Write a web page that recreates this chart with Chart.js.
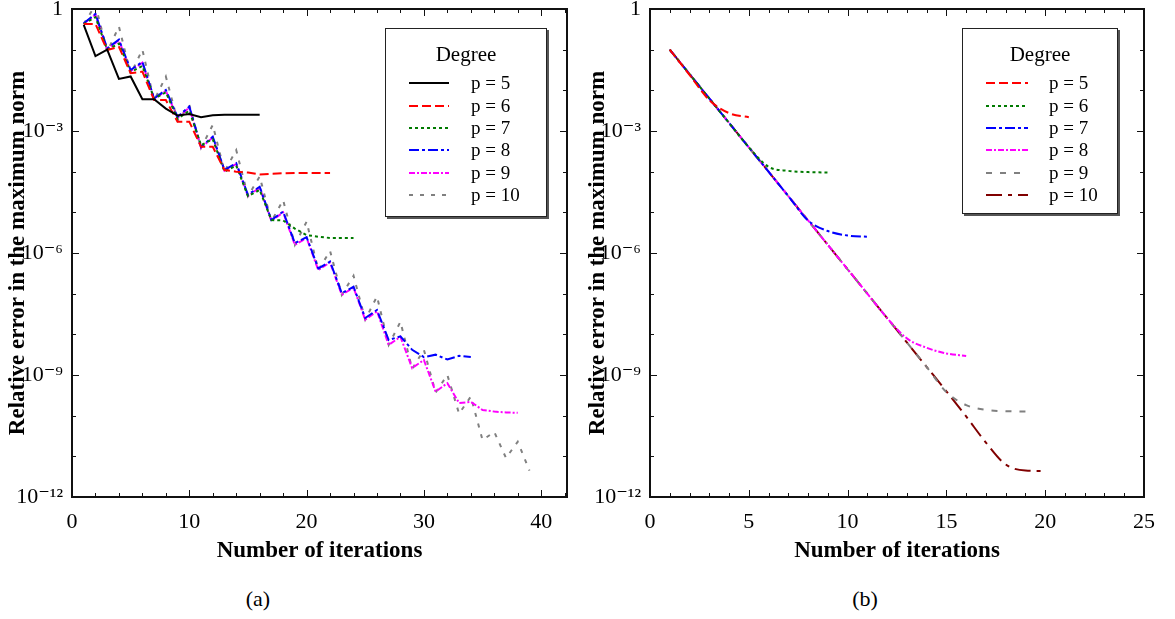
<!DOCTYPE html>
<html>
<head>
<meta charset="utf-8">
<script src="https://cdn.jsdelivr.net/npm/chart.js@4.4.0/dist/chart.umd.min.js"></script>
<style>
  body { margin: 0; background: #fff; width: 1175px; height: 619px; position: relative; overflow: hidden;
         font-family: "Liberation Serif", "DejaVu Serif", serif; color: #000; }
  canvas { position: absolute; top: 0; }
  #chartA { left: 0; }
  #chartB { left: 580px; }
  .legend { position: absolute; box-sizing: border-box; background: #fff; border: 1px solid #222;
            box-shadow: 2px 2px 0 #555; }
  .legend .title { text-align: center; font-size: 21px; height: 24px; line-height: 24px; margin-top: 13px; margin-bottom: 6px; }
  .legend .row { display: flex; align-items: center; height: 22.4px; font-size: 19px; }
  .legend svg { margin-left: 23px; }
  .caption { position: absolute; top: 586px; width: 80px; text-align: center; font-size: 22px; }
</style>
</head>
<body>
<canvas id="chartA" width="580" height="565"></canvas>
<canvas id="chartB" width="595" height="565"></canvas>
<div class="legend" id="legendA" style="left:385px; top:28px; width:162px; height:189px;"></div>
<div class="legend" id="legendB" style="left:962px; top:28px; width:156px; height:186px;"></div>
<div class="caption" style="left:218px;">(a)</div>
<div class="caption" style="left:825px;">(b)</div>
<script>
// axis ticks
const yTickValues = [1e-12, 1e-9, 1e-6, 1e-3, 1];
const yTickLabels = ['10\u207B\u00B9\u00B2', '10\u207B\u2079', '10\u207B\u2076', '10\u207B\u00B3', '1'];
const xTicksA = [0, 10, 20, 30, 40];
const xTicksB = [0, 5, 10, 15, 20, 25];
const degreeLabels = ['p = 5', 'p = 6', 'p = 7', 'p = 8', 'p = 9', 'p = 10'];
const iterations = [1, 2, 3, 4, 5, 6, 7, 8, 9, 10, 11, 12, 13, 14, 15, 16, 17, 18, 19, 20,
  21, 22, 23, 24, 25, 26, 27, 28, 29, 30, 31, 32, 33, 34, 35, 36, 37, 38, 39];

// (a) errors, stored as log10 of the relative error
const errA_p5 = [-0.39, -1.16, -1.0, -1.72, -1.66, -2.22, -2.22, -2.45, -2.62, -2.58, -2.66, -2.61, -2.6, -2.6, -2.6, -2.6];
const errA_p6 = [-0.37, -0.37, -1.01, -0.93, -1.58, -1.54, -2.24, -2.24, -2.77, -2.77, -3.39, -3.39, -3.96, -4.0,
  -4.02, -4.07, -4.05, -4.04, -4.03, -4.03, -4.03, -4.03];
const errA_p7 = [-0.37, -0.2, -1.0, -0.85, -1.55, -1.4, -2.2, -2.05, -2.7, -2.5, -3.35, -3.2, -4.0, -3.85, -4.6, -4.45,
  -5.19, -5.2, -5.4, -5.56, -5.6, -5.63, -5.63, -5.63];
const errA_p8 = [-0.35, -0.12, -0.97, -0.75, -1.5, -1.3, -2.2, -1.99, -2.65, -2.4, -3.39, -3.14, -3.96, -3.79, -4.57, -4.37,
  -5.19, -4.98, -5.76, -5.61, -6.38, -6.21, -6.99, -6.83, -7.6, -7.4, -8.14, -8.05, -8.38, -8.56, -8.5, -8.62, -8.53, -8.56];
const errA_p9 = [-0.36, -0.14, -0.99, -0.77, -1.53, -1.32, -2.22, -2.01, -2.68, -2.42, -3.41, -3.16, -3.98, -3.81, -4.6, -4.39,
  -5.21, -5.0, -5.8, -5.63, -6.42, -6.23, -7.03, -6.85, -7.64, -7.43, -8.26, -8.06, -8.83, -8.63, -9.41, -9.2, -9.69, -9.66,
  -9.86, -9.9, -9.92, -9.93];
const errA_p10 = [-0.37, 0.1, -1.05, -0.43, -1.6, -1.0, -2.25, -1.66, -2.75, -2.36, -3.42, -2.85, -4.0, -3.47, -4.6, -4.12,
  -5.22, -4.7, -5.8, -5.23, -6.42, -5.95, -7.03, -6.56, -7.64, -7.07, -8.26, -7.69, -8.85, -8.38, -9.43, -9.0, -9.95, -9.53,
  -10.6, -10.4, -11.04, -10.64, -11.35];

// (b) errors, log10
const errB_p5 = [-1.0, -1.62, -2.24, -2.56, -2.66];
const errB_p6 = [-1.0, -1.6, -2.2, -2.8, -3.4, -3.88, -3.98, -4.01, -4.02];
const errB_p7 = [-1.0, -1.6, -2.2, -2.8, -3.4, -4.0, -4.6, -5.2, -5.46, -5.57, -5.6];
const errB_p8 = [-1.0, -1.6, -2.2, -2.8, -3.4, -4.0, -4.6, -5.2, -5.8, -6.4, -7.0, -7.6, -8.1, -8.33, -8.47, -8.53];
const errB_p9 = [-1.0, -1.6, -2.2, -2.8, -3.4, -4.0, -4.6, -5.2, -5.8, -6.4, -7.0, -7.6, -8.2, -8.8, -9.42,
  -9.74, -9.86, -9.89, -9.9];
const errB_p10 = [-1.0, -1.6, -2.2, -2.8, -3.4, -4.0, -4.6, -5.2, -5.8, -6.4, -7.0, -7.6, -8.2, -8.8, -9.4,
  -10.02, -10.66, -11.2, -11.35, -11.36];

const toPoints = exps => exps.map((e, i) => ({ x: iterations[i], y: Math.pow(10, e) }));

const serif = '"Liberation Serif", "DejaVu Serif", serif';
const tickFont = { family: serif, size: 22 };
const titleFont = { family: serif, size: 23, weight: 'bold' };

// box around the plot with inward ticks on all four sides
const framePlugin = {
  id: 'frame',
  afterDatasetsDraw(chart, args, opts) {
    const { ctx, chartArea: a, scales: { x, y } } = chart;
    ctx.save();
    ctx.strokeStyle = '#111';
    ctx.lineWidth = 1;
    ctx.beginPath();
    for (let v = 0; v <= x.max; v += opts.xMinor) {
      const px = Math.round(x.getPixelForValue(v)) + 0.5;
      const len = v % opts.xMajor === 0 ? 7 : 4;
      ctx.moveTo(px, a.bottom); ctx.lineTo(px, a.bottom - len);
      ctx.moveTo(px, a.top); ctx.lineTo(px, a.top + len);
    }
    for (let e = -12; e <= 0; e++) {
      const py = Math.round(y.getPixelForValue(Math.pow(10, e))) + 0.5;
      const len = e % 3 === 0 ? 7 : 4;
      ctx.moveTo(a.left, py); ctx.lineTo(a.left + len, py);
      ctx.moveTo(a.right, py); ctx.lineTo(a.right - len, py);
    }
    ctx.stroke();
    ctx.lineWidth = 2;
    ctx.strokeRect(a.left, a.top, a.right - a.left, a.bottom - a.top);
    ctx.restore();
  }
};

function makeOptions(xMax, xTicks, yWidth, rightPad, xMinor, xMajor, smooth) {
  return {
    responsive: false,
    animation: false,
    layout: { padding: { top: 9, right: rightPad, bottom: 0, left: 0 } },
    elements: {
      point: { radius: 0 },
      line: { borderWidth: 2, tension: 0, cubicInterpolationMode: smooth ? 'monotone' : 'default' }
    },
    plugins: {
      legend: { display: false },
      tooltip: { enabled: false },
      frame: { xMinor: xMinor, xMajor: xMajor }
    },
    scales: {
      x: {
        type: 'linear', min: 0, max: xMax,
        grid: { display: false, drawTicks: false },
        border: { display: false },
        afterBuildTicks: s => { s.ticks = xTicks.map(v => ({ value: v })); },
        afterFit: s => { s.height = 68; s.paddingLeft = 0; s.paddingRight = 0; },
        ticks: { color: '#000', font: tickFont, padding: 12, maxRotation: 0, autoSkip: false },
        title: { display: true, text: 'Number of iterations', color: '#000', font: titleFont, padding: { top: 1, bottom: 0 } }
      },
      y: {
        type: 'logarithmic', min: 1e-12, max: 1,
        grid: { display: false, drawTicks: false },
        border: { display: false },
        afterBuildTicks: s => { s.ticks = yTickValues.map(v => ({ value: v })); },
        afterFit: s => { s.width = yWidth; s.paddingTop = 0; s.paddingBottom = 0; },
        ticks: { color: '#000', font: tickFont, padding: 9, autoSkip: false, callback: (v, i) => yTickLabels[i] },
        title: { display: true, text: 'Relative error in the maximum norm', color: '#000', font: titleFont, padding: { top: 4, bottom: 0 } }
      }
    }
  };
}

const chartA = new Chart(document.getElementById('chartA'), {
  type: 'line',
  data: {
    datasets: [
      { label: degreeLabels[0], data: toPoints(errA_p5), borderColor: '#000000', borderDash: [] },
      { label: degreeLabels[1], data: toPoints(errA_p6), borderColor: '#ff0000', borderDash: [9, 4] },
      { label: degreeLabels[2], data: toPoints(errA_p7), borderColor: '#007a00', borderDash: [3, 3] },
      { label: degreeLabels[3], data: toPoints(errA_p8), borderColor: '#0000ff', borderDash: [10, 3, 3, 3] },
      { label: degreeLabels[4], data: toPoints(errA_p9), borderColor: '#ff00ff', borderDash: [6, 2, 2, 2] },
      { label: degreeLabels[5], data: toPoints(errA_p10), borderColor: '#808080', borderDash: [4, 7] }
    ]
  },
  options: makeOptions(42.2, xTicksA, 72, 13, 2, 10, false),
  plugins: [framePlugin]
});

const chartB = new Chart(document.getElementById('chartB'), {
  type: 'line',
  data: {
    datasets: [
      { label: degreeLabels[0], data: toPoints(errB_p5), borderColor: '#ff0000', borderDash: [9, 4] },
      { label: degreeLabels[1], data: toPoints(errB_p6), borderColor: '#007a00', borderDash: [3, 3] },
      { label: degreeLabels[2], data: toPoints(errB_p7), borderColor: '#0000ff', borderDash: [10, 3, 3, 3] },
      { label: degreeLabels[3], data: toPoints(errB_p8), borderColor: '#ff00ff', borderDash: [6, 2, 2, 2] },
      { label: degreeLabels[4], data: toPoints(errB_p9), borderColor: '#808080', borderDash: [6, 8] },
      { label: degreeLabels[5], data: toPoints(errB_p10), borderColor: '#800000', borderDash: [16, 6, 4, 6] }
    ]
  },
  options: makeOptions(25, xTicksB, 70, 31, 1, 5, true),
  plugins: [framePlugin]
});

// html legend built from the chart datasets
function buildLegend(chart, el, sampleWidth, gap) {
  let html = '<div class="title">Degree</div>';
  chart.data.datasets.forEach(ds => {
    const dash = ds.borderDash.length ? ds.borderDash.join(',') : 'none';
    html += '<div class="row"><svg width="' + sampleWidth + '" height="8"><line x1="0" y1="4" x2="' + sampleWidth +
      '" y2="4" stroke="' + ds.borderColor + '" stroke-width="2" stroke-dasharray="' + dash + '"/></svg>' +
      '<span style="margin-left:' + gap + 'px">' + ds.label + '</span></div>';
  });
  el.innerHTML = html;
}
buildLegend(chartA, document.getElementById('legendA'), 40, 22);
buildLegend(chartB, document.getElementById('legendB'), 42, 21);
</script>
</body>
</html>
